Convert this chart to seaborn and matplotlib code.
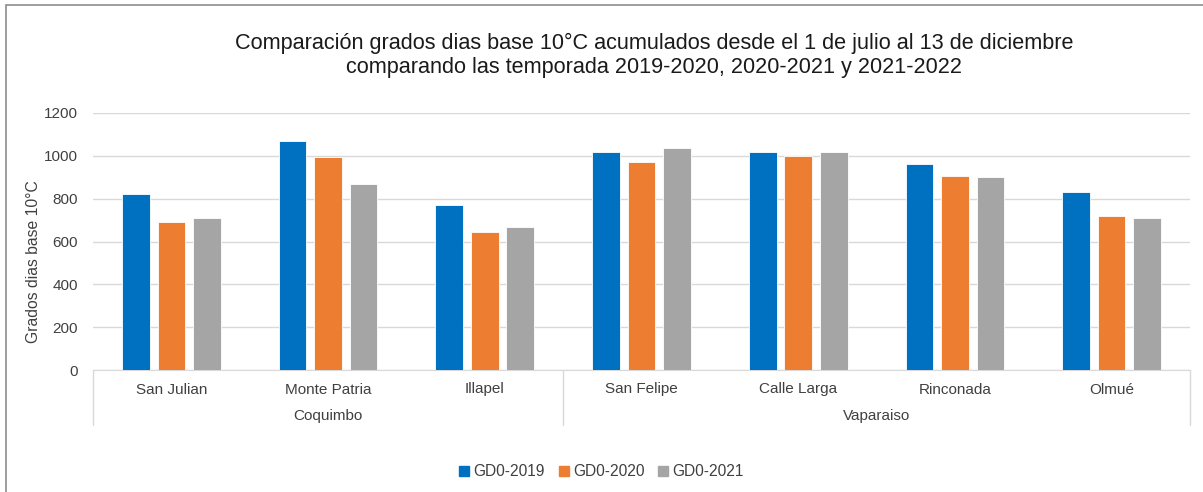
import matplotlib
matplotlib.use("Agg")
import matplotlib.pyplot as plt
import matplotlib.patches as mpatches
import pandas as pd
import numpy as np
import seaborn as sns

# Datos
localidades = ["San Julian", "Monte Patria", "Illapel", "San Felipe",
               "Calle Larga", "Rinconada", "Olmué"]
regiones = ["Coquimbo", "Vaparaiso"]
n_por_region = [3, 4]
series = ["GD0-2019", "GD0-2020", "GD0-2021"]
gd_2019 = [822, 1067, 770, 1020, 1016, 964, 833]
gd_2020 = [692, 994, 645, 969, 998, 905, 717]
gd_2021 = [708, 869, 666, 1036, 1016, 900, 712]
colores = ["#0070C0", "#ED7D31", "#A5A5A5"]

df = pd.DataFrame({
    "Localidad": localidades * 3,
    "Serie": np.repeat(series, len(localidades)),
    "GD": gd_2019 + gd_2020 + gd_2021,
})

sns.set_style("white")
plt.rcParams["font.family"] = ["Liberation Sans", "DejaVu Sans"]

fig = plt.figure(figsize=(12.03, 4.92), dpi=100)
ax = fig.add_axes([93 / 1203, 1 - 370 / 492, (1190 - 93) / 1203, 257 / 492])

sns.barplot(data=df, x="Localidad", y="GD", hue="Serie", palette=colores,
            width=0.68, gap=0.22, saturation=1, ax=ax, legend=False,
            edgecolor="white", linewidth=0.6, zorder=3)

ax.set_ylim(0, 1200)
ax.set_yticks(range(0, 1201, 200))
ax.set_xlim(-0.5, len(localidades) - 0.5)
ax.yaxis.grid(True, color="#D9D9D9", linewidth=1, zorder=0)
for s in ["top", "right", "left"]:
    ax.spines[s].set_visible(False)
ax.spines["bottom"].set_color("#D9D9D9")
ax.tick_params(axis="both", length=0, labelsize=11, colors="#404040")
ax.tick_params(axis="x", pad=9)
ax.tick_params(axis="y", pad=11)
ax.set_xlabel("")
ax.set_ylabel("Grados dias base 10°C", fontsize=11.3, color="#404040")
ax.yaxis.set_label_coords(-0.047, 0.42)

# etiquetas de region y separadores
tr = ax.get_xaxis_transform()
inicio = -0.5
ax.plot([inicio, inicio], [0, -0.215], transform=tr, color="#D9D9D9", lw=1, clip_on=False)
for reg, n in zip(regiones, n_por_region):
    fin = inicio + n
    ax.plot([fin, fin], [0, -0.215], transform=tr, color="#D9D9D9", lw=1, clip_on=False)
    ax.text((inicio + fin) / 2, -0.18, reg, transform=tr, ha="center", va="center",
            fontsize=11, color="#404040")
    inicio = fin

fig.text(0.5437, 0.888, "Comparación grados dias base 10°C acumulados desde el 1 de julio al 13 de diciembre\n"
         "comparando las temporada 2019-2020, 2020-2021 y 2021-2022",
         ha="center", va="center", fontsize=15.6, color="#1a1a1a", linespacing=1.2)

handles = [mpatches.Patch(color=c, label=s) for c, s in zip(colores, series)]
fig.legend(handles=handles, loc="center", bbox_to_anchor=(0.5, 1 - 472 / 492), ncol=3,
           frameon=False, fontsize=11.2, handlelength=0.65, handleheight=0.65,
           handletextpad=0.25, columnspacing=0.9, labelcolor="#404040")

fig.patches.append(mpatches.Rectangle((6 / 1203, -0.1), 1.2, 1 - 5 / 492 + 0.1,
                                      transform=fig.transFigure, fill=False,
                                      edgecolor="#8c8c8c", lw=1.2))

fig.savefig("out.png", dpi=100)
